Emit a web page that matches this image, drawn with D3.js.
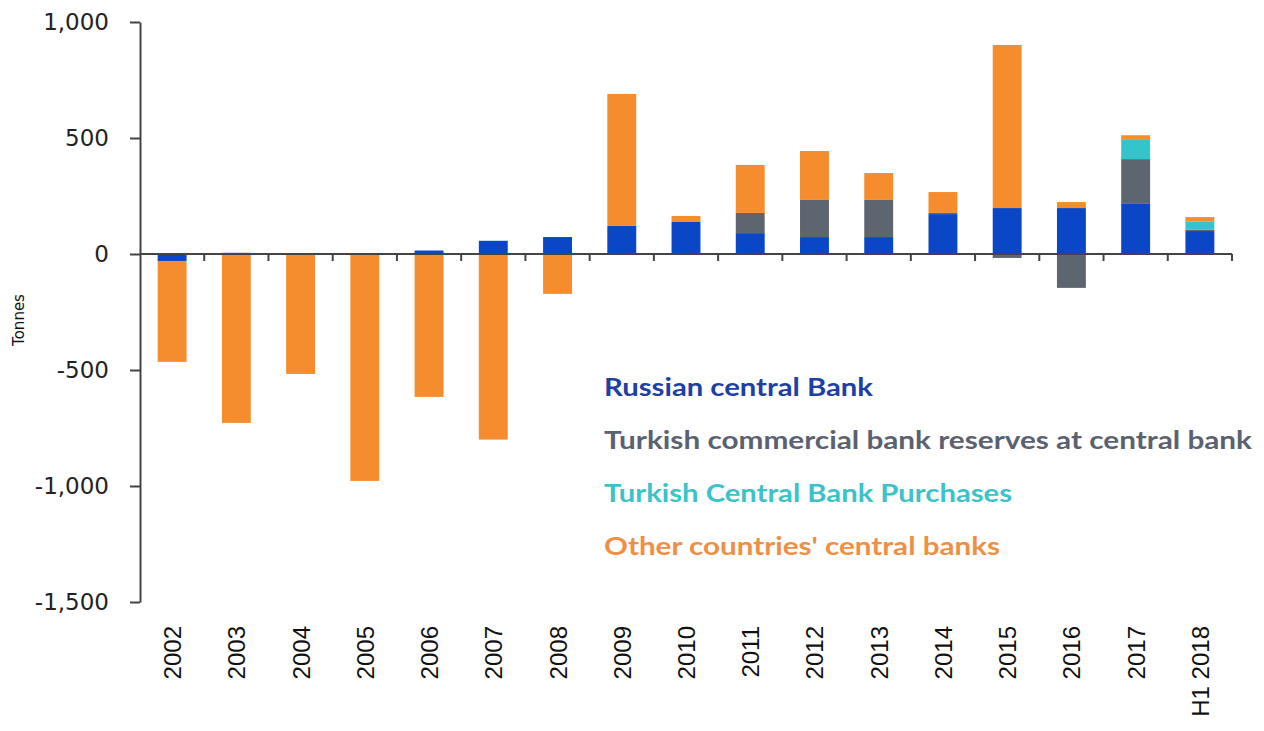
<!DOCTYPE html>
<html>
<head>
<meta charset="utf-8">
<script src="https://cdn.jsdelivr.net/npm/d3@7"></script>
<style>
  body { margin: 0; background: #fff; }
  svg { display: block; }
</style>
</head>
<body>
<script>
// categories and series (tonnes)
const years = ["2002","2003","2004","2005","2006","2007","2008","2009","2010",
               "2011","2012","2013","2014","2015","2016","2017","H1 2018"];
const russian   = [-30,   5,    0,    3,   15,   57,   73, 121, 138,  90,  73,  73, 172, 198, 198, 216,  99];
const turkishCommercial = [0, 0, 0,   0,    0,    0,    0,   0,   0,  87, 160, 160,   5, -17,-146, 193,   5];
const turkishCentral    = [0, 0, 0,   0,    0,    0,    0,   0,   0,   0,   0,   0,   0,   0,   0,  86,  35];
const otherBanks = [-435,-728, -517, -978, -616, -800, -172, 569,  26, 207, 211, 116,  90, 703,  26,  17,  20];
const yTicks = [1000, 500, 0, -500, -1000, -1500];

const seriesNames = ["Russian central Bank",
                     "Turkish commercial bank reserves at central bank",
                     "Turkish Central Bank Purchases",
                     "Other countries' central banks"];
const barColors  = ["#0a46c6", "#5d6570", "#33c5cb", "#f58d2e"];
const textColors = ["#1d40a6", "#5a6270", "#3cc2c9", "#ef8f45"];
const legendWidths = [269, 648, 408, 396];

const W = 1264, H = 731;
const svg = d3.select("body").append("svg").attr("width", W).attr("height", H);

const x = d3.scaleBand().domain(years).range([140, 1232]).paddingInner(0.55).paddingOuter(0.275);
const y = d3.scaleLinear().domain([-1500, 1000]).range([602, 22]);

const rows = years.map((yr, i) => ({
  year: yr, s0: russian[i], s1: turkishCommercial[i], s2: turkishCentral[i], s3: otherBanks[i]
}));
const stack = d3.stack().keys(["s0","s1","s2","s3"]).offset(d3.stackOffsetDiverging);
const layers = stack(rows);

svg.append("g").selectAll("g").data(layers).join("g")
  .attr("fill", (d, i) => barColors[i])
  .selectAll("rect").data(d => d).join("rect")
  .attr("x", d => x(d.data.year))
  .attr("width", x.bandwidth())
  .attr("y", d => y(Math.max(d[0], d[1])))
  .attr("height", d => Math.abs(y(d[0]) - y(d[1])));

// y axis (hyphen minus like the original)
const fmt = d3.format(",");
const yAxis = svg.append("g").attr("transform", "translate(140,0)")
  .call(d3.axisLeft(y).tickValues(yTicks).tickSize(10).tickSizeOuter(0)
    .tickFormat(d => fmt(d).replace("\u2212", "-")));
yAxis.select(".domain").attr("stroke", "#444").attr("stroke-width", 2);
yAxis.selectAll(".tick line").attr("stroke", "#444").attr("stroke-width", 2);
yAxis.selectAll(".tick text")
  .attr("x", -31)
  .style("font-family", "DejaVu Sans, Verdana, sans-serif")
  .style("font-size", "23px")
  .attr("fill", "#222");

// x axis along zero with ticks between categories
const zero = y(0);
const xg = svg.append("g");
xg.append("line").attr("x1", 140).attr("x2", 1232).attr("y1", zero).attr("y2", zero)
  .attr("stroke", "#444").attr("stroke-width", 2);
const bounds = d3.range(1, years.length + 1).map(i => 140 + i * (1092 / years.length));
xg.selectAll("line.tk").data(bounds).join("line").attr("class", "tk")
  .attr("x1", d => d).attr("x2", d => d).attr("y1", zero).attr("y2", zero + 7)
  .attr("stroke", "#444").attr("stroke-width", 2);

// category labels, rotated
svg.append("g").selectAll("text").data(years).join("text")
  .attr("transform", d => `translate(${x(d) + x.bandwidth() / 2 + 9},626) rotate(-90)`)
  .attr("text-anchor", "end")
  .style("font-family", "Liberation Sans, Arial, sans-serif")
  .style("font-size", "24px")
  .attr("fill", "#111")
  .text(d => d);

// axis title
svg.append("text")
  .attr("transform", "translate(24,320) rotate(-90)")
  .attr("text-anchor", "middle")
  .style("font-family", "DejaVu Sans, Verdana, sans-serif")
  .style("font-size", "15px")
  .attr("fill", "#111")
  .text("Tonnes");

// legend
svg.append("g").selectAll("text").data(seriesNames).join("text")
  .attr("x", 604)
  .attr("y", (d, i) => 396 + i * 53)
  .attr("fill", (d, i) => textColors[i])
  .attr("textLength", (d, i) => legendWidths[i])
  .attr("lengthAdjust", "spacingAndGlyphs")
  .style("font-family", "Lato, Open Sans, sans-serif")
  .style("font-weight", "700")
  .style("font-size", "24px")
  .text(d => d);
</script>
</body>
</html>
